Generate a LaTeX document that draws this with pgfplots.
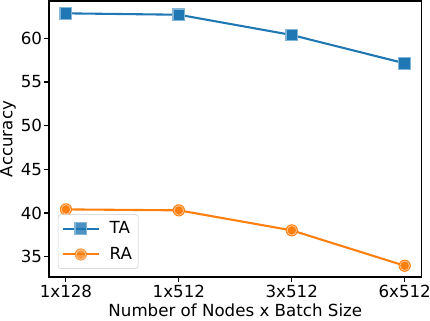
\documentclass[border=0pt]{standalone}
\usepackage{pgfplots}
\pgfplotsset{compat=1.18}
\usepackage{fontspec}
\setmainfont{DejaVu Sans}
\definecolor{c0}{HTML}{1F77B4}
\definecolor{c1}{HTML}{FF7F0E}
\pgfdeclareplotmark{ringo}{%
  \pgfpathcircle{\pgfpointorigin}{\pgfplotmarksize}\pgfusepathqfill
  \pgfsetlinewidth{0.6pt}\pgfsetstrokecolor{c1!45!white}%
  \pgfpathcircle{\pgfpointorigin}{0.78\pgfplotmarksize}\pgfusepathqstroke}
\begin{document}
\fontsize{12pt}{14pt}\selectfont
\begin{tikzpicture}
\path[use as bounding box] (-35.28pt,-30.96pt) rectangle (274.32pt,199.44pt);
\begin{axis}[
  at={(0,0)}, anchor=south west,
  scale only axis, width=268.3pt, height=198.7pt,
  xmin=-0.15, xmax=3.15, ymin=32.68, ymax=64.27,
  xtick={0,1,2,3}, xticklabels={1x128,1x512,3x512,6x512},
  ytick={35,40,45,50,55,60},
  tick align=outside, tick pos=left, major tick length=3.5pt,
  axis line style={line width=0.8pt},
  every tick/.style={black, line width=0.8pt},
  /pgf/number format/assume math mode=true,
  ticklabel style={font=\fontsize{12pt}{14pt}\selectfont},
  xticklabel style={anchor=base, yshift=-11.5pt},
  yticklabel style={anchor=east, inner xsep=1.3pt},
  xlabel={Number of Nodes x Batch Size}, ylabel={Accuracy},
  label style={font=\fontsize{12pt}{14pt}\selectfont},
  every axis x label/.style={at={(axis description cs:0.5,0)}, anchor=base, yshift=-28.6pt},
  every axis y label/.style={at={(axis description cs:-0.11,0.5)}, rotate=90, anchor=center},
  legend style={at={(axis description cs:0.024,0.029)}, anchor=south west,
    draw=black!20, rounded corners=2pt, fill=white, fill opacity=0.8, text opacity=1,
    font=\fontsize{12pt}{14pt}\selectfont, row sep=4pt, inner xsep=2.5pt, inner ysep=3pt,
    /tikz/every odd column/.append style={column sep=5pt}},
  legend cell align=left,
  legend image code/.code={%
    \draw[mark repeat=2,mark phase=2] plot coordinates {(0pt,0pt) (13pt,0pt) (26pt,0pt)};},
]
\addplot[c0, line width=1.5pt, mark=square*, mark size=4.2pt,
  mark options={fill=c0, draw=c0!55!white, line width=0.9pt, solid}]
  coordinates {(0,62.86) (1,62.70) (2,60.38) (3,57.14)};
\addlegendentry{TA}
\addplot[c1, line width=1.5pt, mark=ringo, mark size=4.4pt,
  mark options={fill=c1, solid}]
  coordinates {(0,40.42) (1,40.31) (2,38.02) (3,33.97)};
\addlegendentry{RA}
\end{axis}
\end{tikzpicture}
\end{document}
